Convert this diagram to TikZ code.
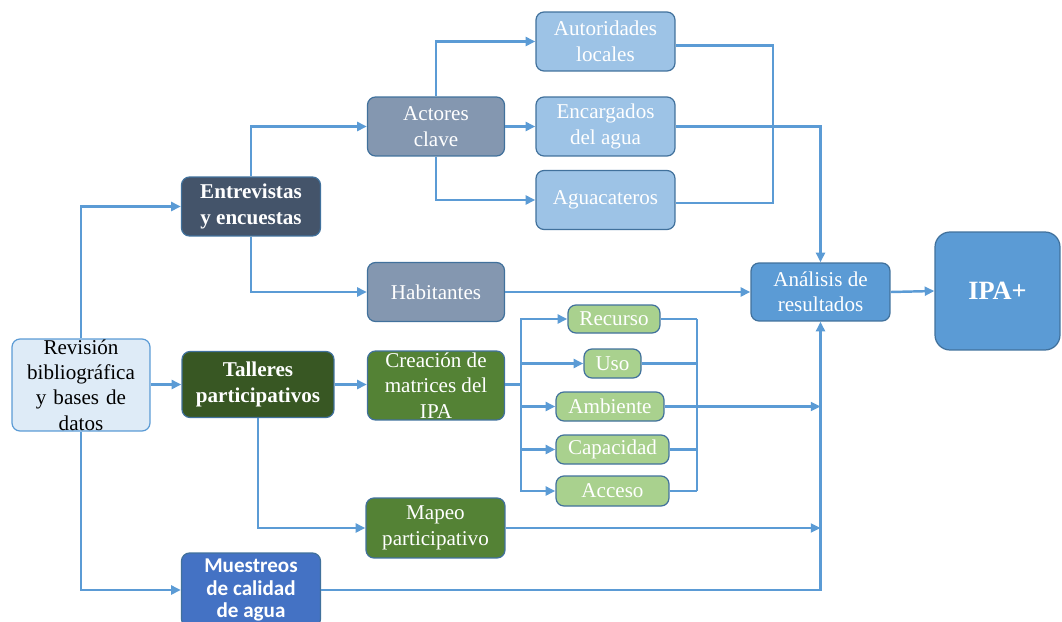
\documentclass[tikz,border=0pt]{standalone}
\usepackage{fontspec}
\setmainfont{Liberation Serif}
\newfontfamily\calibri{Carlito}
\usetikzlibrary{arrows.meta, calc}

\begin{document}
\begin{tikzpicture}[x=0.02cm, y=-0.02cm,
    box/.style={rectangle, rounded corners=0.16cm, draw=borderColour, line width=0.7pt,
        text=white, align=center, inner sep=0pt, font=\fontsize{12}{14.5}\selectfont},
    link/.style={draw=lineColour, line width=1.4pt},
    arrow/.style={link, -{Triangle[length=5.5pt,width=5pt]}}]

    \definecolor{lineColour}{HTML}{5B9BD5}
    \definecolor{borderColour}{HTML}{41719C}
    \definecolor{revColour}{HTML}{DEEBF7}
    \definecolor{slateColour}{HTML}{44546A}
    \definecolor{actorColour}{HTML}{8497B0}
    \definecolor{paleColour}{HTML}{9DC3E6}
    \definecolor{darkGreen}{HTML}{385723}
    \definecolor{midGreen}{HTML}{548235}
    \definecolor{lightGreen}{HTML}{A9D18E}
    \definecolor{royalColour}{HTML}{4472C4}
    \definecolor{resultColour}{HTML}{5B9BD5}

    % Fix the page size
    \useasboundingbox (0,0) rectangle (1062,622);

    % Sources
    \node[box, fill=revColour, text=black, draw=lineColour, minimum width=2.76cm, minimum height=1.84cm, text width=2.76cm]
        (rev) at (81,385) {Revisión\\ bibliográfica\\ y bases de\\ datos};
    \node[box, fill=slateColour, minimum width=2.78cm, minimum height=1.18cm, font=\fontsize{12}{14.5}\selectfont\bfseries]
        (entr) at (251,206.5) {Entrevistas\\ y encuestas};
    \node[box, fill=darkGreen, minimum width=3.04cm, minimum height=1.32cm, font=\fontsize{12}{14.5}\selectfont\bfseries]
        (tall) at (258,384.5) {Talleres\\ participativos};
    \node[box, fill=royalColour, minimum width=2.78cm, minimum height=1.48cm, font=\fontsize{12}{13}\selectfont\calibri\bfseries]
        (mues) at (251,590) {Muestreos\\ de calidad\\ de agua};

    % Actors
    \node[box, fill=actorColour, minimum width=2.74cm, minimum height=1.18cm] (act) at (436,126.5) {Actores\\ clave};
    \node[box, fill=actorColour, minimum width=2.74cm, minimum height=1.18cm] (hab) at (436,292) {Habitantes};
    \node[box, fill=paleColour, minimum width=2.78cm, minimum height=1.18cm] (aut) at (605.5,41.5) {Autoridades\\ locales};
    \node[box, fill=paleColour, minimum width=2.78cm, minimum height=1.18cm] (enc) at (605.5,126.5) {Encargados\\ del agua};
    \node[box, fill=paleColour, minimum width=2.78cm, minimum height=1.18cm] (agu) at (605.5,200) {Aguacateros};

    % Workshops
    \node[box, fill=midGreen, minimum width=2.74cm, minimum height=1.38cm] (cre) at (436,385.5) {Creación de\\ matrices del\\ IPA};
    \node[box, fill=midGreen, minimum width=2.78cm, minimum height=1.2cm] (map) at (435.5,528) {Mapeo\\ participativo};
    \node[box, fill=lightGreen, minimum width=1.84cm, minimum height=0.56cm] (rec) at (614,319) {Recurso};
    \node[box, fill=lightGreen, minimum width=1.14cm, minimum height=0.58cm] (uso) at (612.5,363.5) {Uso};
    \node[box, fill=lightGreen, minimum width=2.16cm, minimum height=0.58cm] (amb) at (610,406.5) {Ambiente};
    \node[box, fill=lightGreen, minimum width=2.26cm, minimum height=0.58cm] (cap) at (612.5,449.5) {Capacidad};
    \node[box, fill=lightGreen, minimum width=2.26cm, minimum height=0.6cm] (acc) at (612.5,491) {Acceso};

    % Results
    \node[box, fill=resultColour, minimum width=2.78cm, minimum height=1.16cm] (ana) at (820.5,292) {Análisis de\\ resultados};
    \node[box, fill=resultColour, rounded corners=0.3cm, minimum width=2.5cm, minimum height=2.36cm,
        font=\fontsize{15}{17}\selectfont\bfseries] (ipa) at (997.5,291) {IPA+};

    % Junction points
    \coordinate (brk) at (773,0);
    \coordinate (fanL) at (521,384.5);
    \coordinate (fanR) at (697,0);

    % Connectors from the review
    \draw[arrow] (rev.north) |- (entr.west);
    \draw[arrow] (rev.east |- tall.west) -- (tall.west);
    \draw[arrow] (rev.south) |- (mues.west);

    % Interviews
    \draw[arrow] (entr.north) |- (act.west);
    \draw[arrow] (entr.south) |- (hab.west);
    \draw[arrow] (act.north) |- (aut.west);
    \draw[arrow] (act.east) -- (enc.west);
    \draw[arrow] (act.south) |- (agu.west);
    \draw[link] ($(aut.east)+(0,4)$) -| ($(brk |- agu.east)+(0,3)$) -- ($(agu.east)+(0,3)$);
    \draw[arrow] (enc.east) -| (ana.north);
    \draw[arrow] (hab.east) -- (ana.west);

    % Workshops
    \draw[arrow] (tall.east) -- (cre.west |- tall.east);
    \draw[arrow] (tall.south) |- (map.west);
    \draw[link] (cre.east |- fanL) -- (fanL);
    \foreach \b in {rec,uso,amb,cap,acc}
        \draw[arrow] (fanL) |- (\b.west);
    \foreach \b in {rec,uso,cap,acc}
        \draw[link] (\b.east) -- (\b.east -| fanR);
    \draw[link] (rec.east -| fanR) -- (acc.east -| fanR);
    \draw[arrow] (amb.east) -- (amb.east -| ana.south);
    \draw[arrow] (map.east) -- (map.east -| ana.south);

    % Sampling and result
    \draw[arrow] (mues.east) -| (ana.south);
    \draw[arrow] (ana.east) -- (ipa.west);

\end{tikzpicture}
\end{document}
